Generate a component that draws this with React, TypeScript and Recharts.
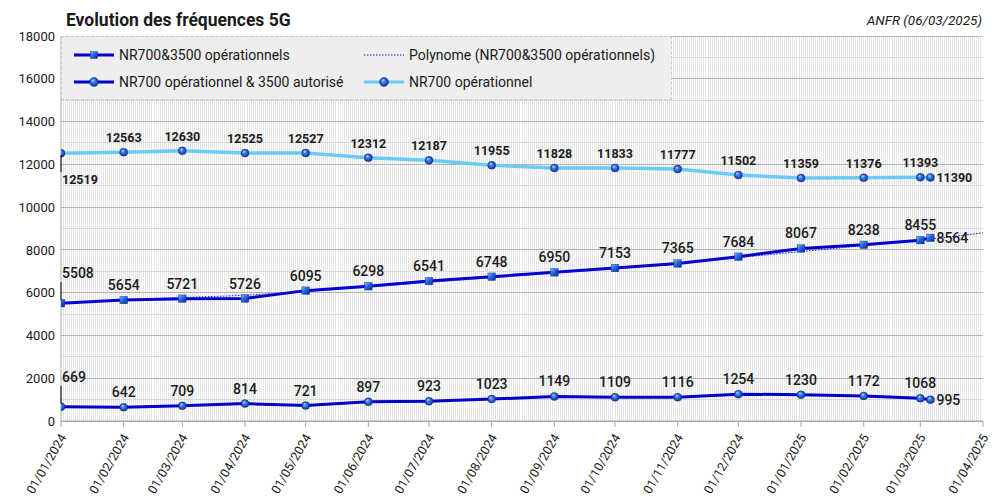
import React from 'react';
import { LineChart, Line, XAxis, YAxis, CartesianGrid, LabelList } from 'recharts';

// ---------- data ----------
const dates = [
  '2024-01-01', '2024-02-01', '2024-03-01', '2024-04-01', '2024-05-01', '2024-06-01',
  '2024-07-01', '2024-08-01', '2024-09-01', '2024-10-01', '2024-11-01', '2024-12-01',
  '2025-01-01', '2025-02-01', '2025-03-01', '2025-03-06',
];
const nr700And3500 = [5508, 5654, 5721, 5726, 6095, 6298, 6541, 6748, 6950, 7153, 7365, 7684, 8067, 8238, 8455, 8564];
const nr700And3500Autorise = [669, 642, 709, 814, 721, 897, 923, 1023, 1149, 1109, 1116, 1254, 1230, 1172, 1068, 995];
const nr700 = [12519, 12563, 12630, 12525, 12527, 12312, 12187, 11955, 11828, 11833, 11777, 11502, 11359, 11376, 11393, 11390];

const trendDates = [...dates, '2025-04-01'];
const trendValues = [5520, 5630, 5770, 5880, 6060, 6270, 6480, 6700, 6920, 7140, 7380, 7640, 7920, 8200, 8460, 8510, 8800];

const tickDates = [
  '2024-01-01', '2024-02-01', '2024-03-01', '2024-04-01', '2024-05-01', '2024-06-01',
  '2024-07-01', '2024-08-01', '2024-09-01', '2024-10-01', '2024-11-01', '2024-12-01',
  '2025-01-01', '2025-02-01', '2025-03-01', '2025-04-01',
];
const yTicks = [0, 2000, 4000, 6000, 8000, 10000, 12000, 14000, 16000, 18000];
const minorGrid = [1000, 3000, 5000, 7000, 9000, 11000, 13000, 15000, 17000];

const legendLabels = [
  'NR700&3500 opérationnels',
  'Polynome (NR700&3500 opérationnels)',
  'NR700 opérationnel & 3500 autorisé',
  'NR700 opérationnel',
];
const title = 'Evolution des fréquences 5G';
const source = 'ANFR (06/03/2025)';

// ---------- helpers ----------
const toTs = (s: string) => {
  const [y, m, d] = s.split('-').map(Number);
  return Date.UTC(y, m - 1, d);
};
const fmtDate = (t: number) => {
  const d = new Date(t);
  const dd = String(d.getUTCDate()).padStart(2, '0');
  const mm = String(d.getUTCMonth() + 1).padStart(2, '0');
  return `${dd}/${mm}/${d.getUTCFullYear()}`;
};

const rows = dates.map((d, i) => ({ t: toTs(d), a: nr700And3500[i], b: nr700And3500Autorise[i], c: nr700[i] }));
const trendRows = trendDates.map((d, i) => ({ t: toTs(d), trend: trendValues[i] }));
const tickTs = tickDates.map(toTs);
const START = tickTs[0];
const END = tickTs[tickTs.length - 1];
const DAY = 86400000;
const dayLines: number[] = [];
for (let t = START + DAY; t < END; t += DAY) dayLines.push(t);

const DARK = '#0000c8';
const LIGHT = '#6ccaf6';
const TREND = '#1414ff';
const TEXT = '#1a1a1a';

// ---------- marks ----------
const Sphere = ({ cx, cy, r = 4 }: any) => (
  <circle cx={cx} cy={cy} r={r} fill="url(#gSphere)" stroke="#0c2c8c" strokeWidth={0.4} />
);
const Square = ({ cx, cy, s = 7.5 }: any) => (
  <rect x={cx - s / 2} y={cy - s / 2} width={s} height={s} fill="url(#gSquare)" stroke="#0c2c8c" strokeWidth={0.4} />
);

const sphereDot = (p: any) => {
  if (p.cx == null || p.cy == null || p.value == null) return <g key={p.index} />;
  return <Sphere key={p.index} cx={p.cx} cy={p.cy} />;
};
const squareDot = (p: any) => {
  if (p.cx == null || p.cy == null || p.value == null) return <g key={p.index} />;
  return <Square key={p.index} cx={p.cx} cy={p.cy} />;
};

type LabelCfg = { fontSize: number; fontWeight: number; firstBelow: boolean };
const makeLabel = (cfg: LabelCfg) => (props: any) => {
  const { index, value } = props;
  const x = props.viewBox?.x ?? props.x;
  const y = props.viewBox?.y ?? props.y;
  if (value == null || x == null || y == null) return null;
  const style = { fontSize: cfg.fontSize, fontWeight: cfg.fontWeight, fill: TEXT } as const;
  if (index === 0) {
    if (cfg.firstBelow) {
      return (
        <g>
          <line x1={x} x2={x} y1={y + 2} y2={y + 19} stroke="#000" strokeWidth={1} />
          <text x={x + 1} y={y + 31} textAnchor="start" {...style}>{value}</text>
        </g>
      );
    }
    return (
      <g>
        <line x1={x} x2={x} y1={y - 21} y2={y - 3} stroke="#000" strokeWidth={1} />
        <text x={x + 1} y={y - 25} textAnchor="start" {...style}>{value}</text>
      </g>
    );
  }
  if (index === dates.length - 1) {
    return <text x={x + 6} y={y} dy="0.36em" textAnchor="start" {...style}>{value}</text>;
  }
  return <text x={x} y={y - 10} textAnchor="middle" {...style}>{value}</text>;
};

const XTick = (props: any) => {
  const { x, y, payload } = props;
  return (
    <g transform={`translate(${x + 2},${y})`}>
      <text x={0} y={0} dy="0.35em" textAnchor="end" transform="rotate(-60)" fontSize={12.5} fill={TEXT}>
        {fmtDate(payload.value)}
      </text>
    </g>
  );
};

const vGen = ({ xAxis, offset }: any) => {
  const s = xAxis?.scale;
  return dayLines.map((t) =>
    typeof s === 'function' ? s(t) : offset.left + ((t - START) / (END - START)) * offset.width
  );
};
const hGen = (vals: number[]) => ({ yAxis, offset }: any) => {
  const s = yAxis?.scale;
  return vals.map((v) =>
    typeof s === 'function' ? s(v) : offset.top + offset.height * (1 - v / 18000)
  );
};

const LegendIcon = ({ kind }: { kind: 'square' | 'dotted' | 'sphere' | 'light' }) => (
  <svg width={40} height={12} style={{ display: 'block' }}>
    {kind === 'dotted' ? (
      <line x1={0} x2={40} y1={6} y2={6} stroke={TREND} strokeWidth={1} strokeDasharray="1.5 1.5" />
    ) : (
      <line x1={0} x2={40} y1={6} y2={6} stroke={kind === 'light' ? LIGHT : DARK} strokeWidth={3} />
    )}
    {kind === 'square' && <Square cx={20} cy={6} s={7} />}
    {(kind === 'sphere' || kind === 'light') && <Sphere cx={20} cy={6} r={4.5} />}
  </svg>
);

const legendItems: { kind: 'square' | 'dotted' | 'sphere' | 'light'; label: string; left: number; top: number }[] = [
  { kind: 'square', label: legendLabels[0], left: 12, top: 18 },
  { kind: 'dotted', label: legendLabels[1], left: 302, top: 18 },
  { kind: 'sphere', label: legendLabels[2], left: 12, top: 45 },
  { kind: 'light', label: legendLabels[3], left: 302, top: 45 },
];

export default function App() {
  return (
    <div style={{ position: 'relative', width: 1007, height: 496, background: '#fff', fontFamily: 'Roboto, "Noto Sans", sans-serif' }}>
      <style>{`body{margin:0} .recharts-cartesian-grid line{shape-rendering:crispEdges}`}</style>
      <svg width={0} height={0} style={{ position: 'absolute' }}>
        <defs>
          <radialGradient id="gSphere" cx="0.5" cy="0.5" r="0.55" fx="0.35" fy="0.3">
            <stop offset="0%" stopColor="#b4dcff" />
            <stop offset="40%" stopColor="#3a7ae6" />
            <stop offset="100%" stopColor="#0b2a88" />
          </radialGradient>
          <linearGradient id="gSquare" x1="0" y1="0" x2="1" y2="1">
            <stop offset="0%" stopColor="#7ab4ff" />
            <stop offset="50%" stopColor="#2060d8" />
            <stop offset="100%" stopColor="#0a2a86" />
          </linearGradient>
        </defs>
      </svg>
      <LineChart width={1007} height={496} data={rows} margin={{ top: 36, right: 24, bottom: 0, left: 0 }}>
        <CartesianGrid horizontal={false} vertical stroke="#e6e6e6" verticalCoordinatesGenerator={vGen} />
        <CartesianGrid vertical={false} horizontal stroke="#d9d9d9" horizontalCoordinatesGenerator={hGen(minorGrid)} />
        <CartesianGrid vertical={false} horizontal stroke="#b3b3b3" horizontalCoordinatesGenerator={hGen(yTicks)} />
        <XAxis
          dataKey="t"
          type="number"
          domain={[START, END]}
          ticks={tickTs}
          interval={0}
          height={75}
          tickSize={6}
          tickMargin={8}
          axisLine={{ stroke: '#a6a6a6' }}
          tickLine={{ stroke: '#a6a6a6' }}
          tick={(p: any) => <XTick {...p} />}
          allowDataOverflow
        />
        <YAxis
          type="number"
          domain={[0, 18000]}
          ticks={yTicks}
          interval={0}
          width={61}
          tickLine={false}
          tickSize={0}
          tickMargin={6}
          axisLine={{ stroke: '#a6a6a6' }}
          tick={{ fontSize: 13, fill: TEXT }}
        />
        <Line
          dataKey="c"
          stroke={LIGHT}
          strokeWidth={3.5}
          dot={sphereDot}
          activeDot={false}
          isAnimationActive={false}
        >
          <LabelList dataKey="c" content={makeLabel({ fontSize: 12.5, fontWeight: 700, firstBelow: true })} />
        </Line>
        <Line
          dataKey="b"
          stroke={DARK}
          strokeWidth={3}
          dot={sphereDot}
          activeDot={false}
          isAnimationActive={false}
        >
          <LabelList dataKey="b" content={makeLabel({ fontSize: 14, fontWeight: 500, firstBelow: false })} />
        </Line>
        <Line
          dataKey="a"
          stroke={DARK}
          strokeWidth={3}
          dot={squareDot}
          activeDot={false}
          isAnimationActive={false}
        >
          <LabelList dataKey="a" content={makeLabel({ fontSize: 14, fontWeight: 500, firstBelow: false })} />
        </Line>
        <Line
          data={trendRows}
          dataKey="trend"
          type="monotone"
          stroke={TREND}
          strokeWidth={1}
          strokeDasharray="1.5 1.5"
          dot={false}
          activeDot={false}
          isAnimationActive={false}
        />
      </LineChart>

      <div style={{ position: 'absolute', left: 66, top: 10, lineHeight: '20px', fontSize: 17.5, fontWeight: 700, color: TEXT, whiteSpace: 'nowrap' }}>
        {title}
      </div>
      <div style={{ position: 'absolute', right: 25, top: 10, lineHeight: '20px', fontSize: 13.5, fontStyle: 'italic', color: TEXT, whiteSpace: 'nowrap' }}>
        {source}
      </div>

      <div
        style={{
          position: 'absolute',
          left: 61,
          top: 36,
          width: 611,
          height: 64,
          boxSizing: 'border-box',
          background: '#eeeeee',
          border: '1px dashed #c8c8c8',
        }}
      >
        {legendItems.map((it) => (
          <React.Fragment key={it.label}>
            <div style={{ position: 'absolute', left: it.left, top: it.top - 6 }}>
              <LegendIcon kind={it.kind} />
            </div>
            <div
              style={{
                position: 'absolute',
                left: it.left + 45,
                top: it.top - 10,
                lineHeight: '20px',
                fontSize: 14,
                color: TEXT,
                whiteSpace: 'nowrap',
              }}
            >
              {it.label}
            </div>
          </React.Fragment>
        ))}
      </div>
    </div>
  );
}
